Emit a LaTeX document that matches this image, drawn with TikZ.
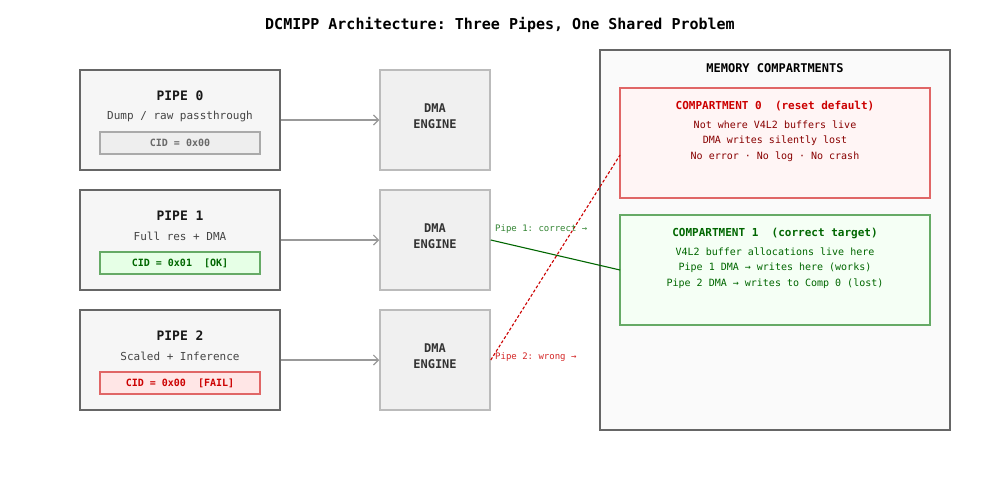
\documentclass[tikz,border=0pt]{standalone}
\usepackage{fontspec}
\setmonofont{DejaVu Sans Mono}
\usetikzlibrary{arrows.meta}
\definecolor{boxgray}{HTML}{666666}
\definecolor{pipefill}{HTML}{F6F6F6}
\definecolor{dmafill}{HTML}{F0F0F0}
\definecolor{dmaedge}{HTML}{BBBBBB}
\definecolor{memfill}{HTML}{FAFAFA}
\definecolor{okgreen}{HTML}{006600}
\definecolor{okedge}{HTML}{66AA66}
\definecolor{okfill}{HTML}{E6FFE6}
\definecolor{okfillb}{HTML}{F5FFF5}
\definecolor{badred}{HTML}{CC0000}
\definecolor{badedge}{HTML}{E06666}
\definecolor{badfill}{HTML}{FFE6E6}
\definecolor{badfillb}{HTML}{FFF5F5}
\definecolor{darkred}{HTML}{880000}
\definecolor{txtgray}{HTML}{444444}
\definecolor{neutfill}{HTML}{EEEEEE}
\definecolor{neutedge}{HTML}{AAAAAA}
\definecolor{arrgray}{HTML}{999999}
\begin{document}
\begin{tikzpicture}[x=1pt,y=-1pt,
  every node/.style={font=\ttfamily, inner sep=0pt},
  pipebox/.style={draw=boxgray, fill=pipefill, line width=1.5pt, minimum width=200pt, minimum height=100pt},
  dmabox/.style={draw=dmaedge, fill=dmafill, line width=1.5pt, minimum width=110pt, minimum height=100pt},
  cidbox/.style={line width=1.5pt, minimum width=160pt, minimum height=22pt},
  ptitle/.style={font=\ttfamily\bfseries\fontsize{13}{15}\selectfont, text=black!90},
  psub/.style={font=\ttfamily\fontsize{11}{13}\selectfont, text=txtgray},
  dmatxt/.style={font=\ttfamily\bfseries\fontsize{12}{14}\selectfont, text=black!80},
  feed/.style={draw=arrgray, line width=1.1pt, -{Straight Barb[length=5pt,width=10pt]}},
  comptxt/.style={font=\ttfamily\fontsize{10}{12}\selectfont},
  comptitle/.style={font=\ttfamily\bfseries\fontsize{11}{13}\selectfont},
]
\useasboundingbox (0,0) rectangle (1000,480);
\fill[white] (0,0) rectangle (1000,480);

\node[font=\ttfamily\bfseries\fontsize{15}{18}\selectfont] (title) at (500,25) {DCMIPP Architecture: Three Pipes, One Shared Problem};

% memory
\node[draw=boxgray, fill=memfill, line width=1.5pt, minimum width=350pt, minimum height=380pt] (mem) at (775,240) {};
\node[font=\ttfamily\bfseries\fontsize{12}{14}\selectfont] (memt) at (775,68) {MEMORY COMPARTMENTS};
\node[draw=badedge, fill=badfillb, line width=1.5pt, minimum width=310pt, minimum height=110pt] (c0) at (775,143) {};
\node[comptitle, text=badred] (c0t) at (775,106) {COMPARTMENT 0\ \ (reset default)};
\node[comptxt, text=darkred] (c0a) at (775,125) {Not where V4L2 buffers live};
\node[comptxt, text=darkred] (c0b) at (775,141) {DMA writes silently lost};
\node[comptxt, text=darkred] (c0c) at (775,157) {No error · No log · No crash};
\node[draw=okedge, fill=okfillb, line width=1.5pt, minimum width=310pt, minimum height=110pt] (c1) at (775,270) {};
\node[comptitle, text=okgreen] (c1t) at (775,233) {COMPARTMENT 1\ \ (correct target)};
\node[comptxt, text=okgreen] (c1a) at (775,252) {V4L2 buffer allocations live here};
\node[comptxt, text=okgreen] (c1b) at (775,268) {Pipe 1 DMA → writes here (works)};
\node[comptxt, text=okgreen] (c1c) at (775,284) {Pipe 2 DMA → writes to Comp 0 (lost)};

% pipes
\foreach \i/\y/\sub in {0/120/{Dump / raw passthrough}, 1/240/{Full res + DMA}, 2/360/{Scaled + Inference}}{
  \node[pipebox] (p\i) at (180,\y) {};
  \node[ptitle] (p\i t) at (180,\y-24) {PIPE \i};
  \node[psub] (p\i s) at (180,\y-4) {\sub};
  \node[dmabox] (d\i) at (435,\y) {};
  \node[dmatxt] (d\i a) at (435,\y-12) {DMA};
  \node[dmatxt] (d\i b) at (435,\y+4) {ENGINE};
  \draw[feed] (p\i.east) -- (d\i.west);
}
\node[cidbox, draw=neutedge, fill=neutfill, text=txtgray!80] (cid0) at (180,143) {\fontsize{10}{12}\bfseries CID = 0x00};
\node[cidbox, draw=okedge, fill=okfill, text=okgreen] (cid1) at (180,263) {\fontsize{10}{12}\bfseries CID = 0x01\ \ [OK]};
\node[cidbox, draw=badedge, fill=badfill, text=badred] (cid2) at (180,383) {\fontsize{10}{12}\bfseries CID = 0x00\ \ [FAIL]};

% connectors
\coordinate (t1) at (620,270);
\coordinate (t2) at (620,155);
\draw[okgreen, line width=1.1pt] (d1.east) -- (t1);
\draw[badred, line width=1.1pt, dash pattern=on 3pt off 2pt] (d2.east) -- (t2);
\node[anchor=west, font=\ttfamily\fontsize{9}{11}\selectfont, text=okgreen!80!white] (l1) at (495,229) {Pipe 1: correct →};
\node[anchor=west, font=\ttfamily\fontsize{9}{11}\selectfont, text=badred!85!white] (l2) at (495,357) {Pipe 2: wrong →};
\end{tikzpicture}
\end{document}
